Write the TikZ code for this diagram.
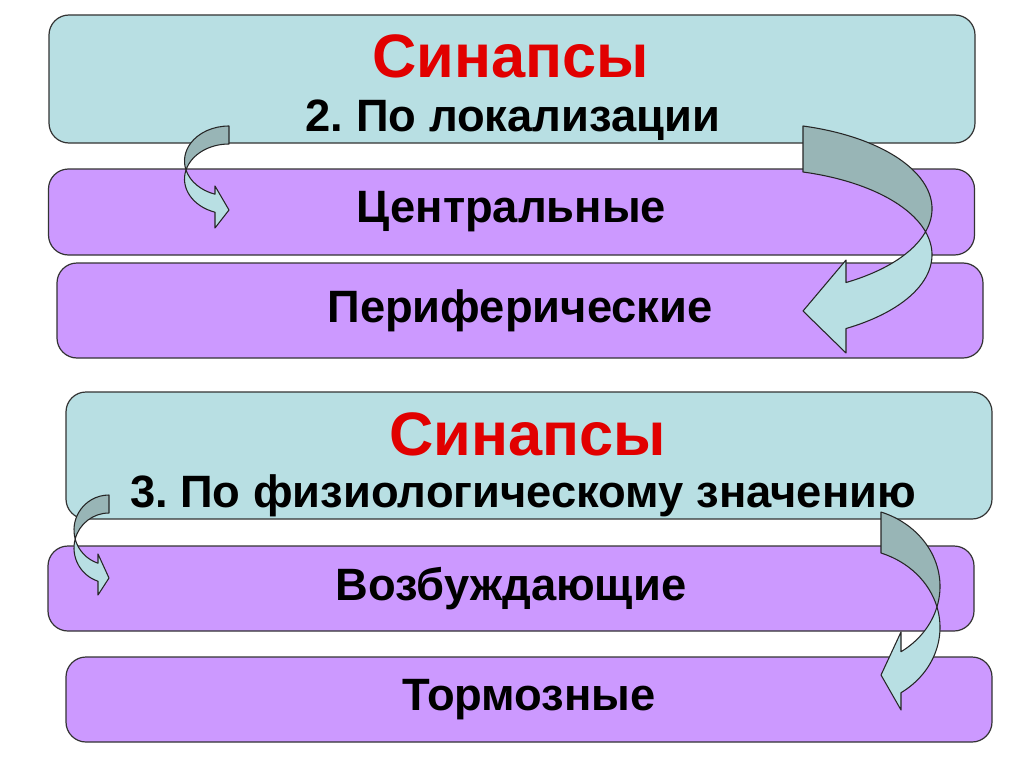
\documentclass[tikz,border=0pt]{standalone}
\usepackage{fontspec}
\setmainfont{Liberation Sans}
\frenchspacing

\definecolor{boxteal}{RGB}{184,223,227}
\definecolor{boxviolet}{RGB}{204,153,255}
\definecolor{curlback}{RGB}{152,181,182}
\definecolor{titlered}{RGB}{225,0,0}

\begin{document}
\begin{tikzpicture}[x=0.75pt, y=-0.75pt, line join=round,
  box/.style={draw=black!80, line width=0.9pt, rounded corners=15pt, inner sep=0pt,
    minimum width=926*0.75pt, font=\bfseries\fontsize{34}{40}\selectfont},
  head/.style={box, fill=boxteal},
  item/.style={box, fill=boxviolet},
  ttl/.style={anchor=base, inner sep=0pt, text=titlered, font=\bfseries\fontsize{46}{52}\selectfont},
  sub/.style={anchor=base, inner sep=0pt, font=\bfseries\fontsize{34}{40}\selectfont},
  back/.style={draw=black!85, line width=0.8pt, fill=curlback},
  front/.style={back, fill=boxteal}]
\useasboundingbox[fill=white] (0,0) rectangle (1024,767);
% first group
\node[head, minimum height=128*0.75pt] (loc) at (512,79) {};
\node[item, minimum height=86*0.75pt] (central) at (511.5,212) {Центральные};
\node[item, minimum height=95*0.75pt] (periph) at (520,310.5) {Периферические};
\node[ttl] (syn1) at (511,78) {Синапсы};
\node[sub] (loctxt) at (513,132) {2. По локализации};
% second group
\node[head, minimum height=127*0.75pt] (phys) at (529,455.5) {};
\node[item, minimum height=85*0.75pt] (excit) at (511,588.5) {Возбуждающие};
\node[item, minimum height=85*0.75pt] (inhib) at (529,699.5) {Тормозные};
\node[ttl] (syn2) at (528,455) {Синапсы};
\node[sub] (phystxt) at (523,507) {3. По физиологическому значению};
% curved arrows: side/tail x/tail y/width/centre offset/rx/ry/neck/barbs/tip
\foreach \sg/\ax/\ay/\aw/\ae/\arx/\ary/\anx/\aub/\alb/\atp in
  {1/229/126/18/0/44.5/35/14/60/102/84, -1/803/126/46/48/177/86/43/134/227/185,
   1/109/495/18/0/35/35/11/59/100/83, -1/881/512/41/30/89/79/20/120/198/163} {
  \begin{scope}[shift={(\ax,\ay)}, x=0.75pt, y=0.75pt, xscale=\sg]
    \pgfmathsetmacro\cy{\ary*sqrt(1-(\ae/\arx)^2)}
    \pgfmathsetmacro\ta{90+asin(\ae/\arx)}
    \pgfmathsetmacro\tia{180+asin(\aw/(2*\ary))}
    \pgfmathsetmacro\tib{180-asin(\aw/(2*\ary))}
    \pgfmathsetmacro\tn{180+acos((\anx+\ae)/\arx)}
    \pgfmathsetmacro\ix{\ae+\arx*cos(\tia)}
    \pgfmathsetmacro\iy{-\cy+\ary*sin(\tia)}
    \pgfmathsetmacro\un{-\cy+\ary*sin(\tn)}
    \path[back] (0,0) arc[start angle=\ta, end angle=\tia, x radius=\arx, y radius=\ary]
      arc[start angle=\tib, end angle=\ta, x radius=\arx, y radius=\ary] -- cycle;
    \path[front] (\ix,\iy) arc[start angle=\tib, end angle=\tn, x radius=\arx, y radius=\ary]
      -- (-\anx,-\alb) -- (0,-\atp) -- (-\anx,-\aub) -- (-\anx,\un)
      arc[start angle=\tn, end angle=\tia, x radius=\arx, y radius=\ary] -- cycle;
  \end{scope}
}
\end{tikzpicture}
\end{document}
